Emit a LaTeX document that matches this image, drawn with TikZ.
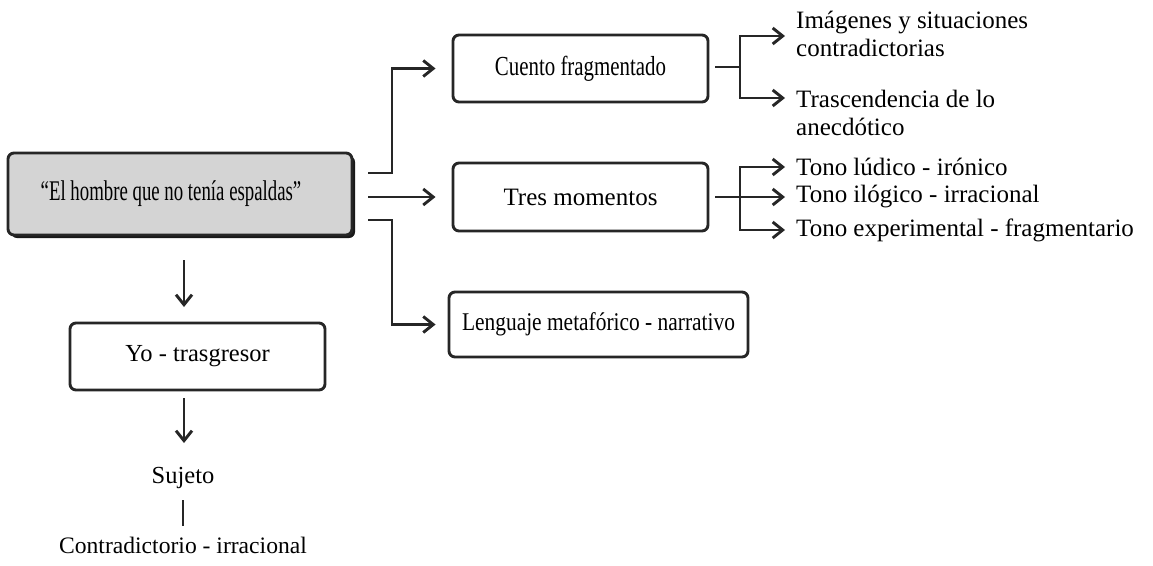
\documentclass[tikz,border=0pt]{standalone}
\usepackage{fontspec}
\setmainfont{Liberation Serif}
\newfontfamily\cuentofont[FakeStretch=0.76]{Liberation Serif}
\newfontfamily\lenguajefont[FakeStretch=0.84]{Liberation Serif}
\newfontfamily\titlefont[FakeStretch=0.66]{Liberation Serif}
\usetikzlibrary{arrows.meta,shadows}
\tikzset{
  box/.style={draw=black!85, line width=2.9pt, rounded corners=6pt, align=center, inner sep=0pt},
  mainbox/.style={box, fill=black!17, drop shadow={shadow xshift=3pt, shadow yshift=-3pt, fill=black!90, opacity=1}},
  lbl/.style={anchor=west, align=left, inner sep=0pt, font=\fontsize{25}{28}\selectfont},
  plain/.style={inner sep=0pt, font=\fontsize{24.5}{27}\selectfont},
  link/.style={draw=black!85, line width=2.9pt},
  arr/.style={link, -{Straight Barb[length=10pt,width=16pt,line width=2.9pt]}},
}
\begin{document}
\begin{tikzpicture}[x=1pt,y=-1pt]
\useasboundingbox (0,0) rectangle (1153,565);

% title box and its caption
\node[mainbox, minimum width=344pt, minimum height=82pt] (main) at (180,194) {};
\node[inner sep=0pt, font=\titlefont\fontsize{28.5}{30}\selectfont]
  (maintext) at (171,194) {“El hombre que no tenía espaldas”};

% boxes
\node[box, minimum width=255pt, minimum height=67pt, font=\cuentofont\fontsize{27.5}{29}\selectfont]
  (cuento) at (580.5,68.5) {Cuento fragmentado};
\node[box, minimum width=255pt, minimum height=68pt, font=\fontsize{25}{27}\selectfont]
  (tres) at (580.5,197) {Tres momentos};
\node[box, minimum width=299pt, minimum height=65pt, font=\lenguajefont\fontsize{25.5}{27}\selectfont]
  (leng) at (598.5,324.5) {Lenguaje metafórico - narrativo};
\node[box, minimum width=255pt, minimum height=67pt, font=\fontsize{24.5}{27}\selectfont]
  (yo) at (197.5,356.5) {Yo - trasgresor};

% right-hand labels
\node[lbl] (img) at (796,34) {Imágenes y situaciones\\contradictorias};
\node[lbl] (tras) at (796,112.5) {Trascendencia de lo\\anecdótico};
\node[lbl] (t1) at (796,167) {Tono lúdico - irónico};
\node[lbl] (t2) at (796,197) {Tono ilógico - irracional};
\node[lbl] (t3) at (796,230) {Tono experimental - fragmentario};

% lower labels
\node[plain] (suj) at (183,478) {Sujeto};
\node[plain, font=\fontsize{23.6}{26}\selectfont] (contra) at (183,545) {Contradictorio - irracional};

% connector ends
\coordinate (m1) at (368,173);
\coordinate (m2) at (368,197);
\coordinate (m3) at (368,220);
\coordinate (c0) at (715,67);
\coordinate (imgtip) at (785,36);
\coordinate (trastip) at (785,98);
\coordinate (r0) at (715,197);
\coordinate (d1) at (184,260);
\coordinate (d2) at (184,307);
\coordinate (d3) at (184,398);
\coordinate (d4) at (184,443);
\coordinate (s1) at (183,500);
\coordinate (s2) at (183,526);

% from the title box
\draw[arr] (m1) -- ++(24,0) |- ([xshift=-16pt]cuento.west);
\draw[arr] (m2) -- ([xshift=-16pt]tres.west);
\draw[arr] (m3) -- ++(24,0) |- ([xshift=-12pt]leng.west);

% from "Cuento fragmentado"
\draw[link] (c0) -- ++(25,0);
\draw[arr] (c0) ++(25,0) |- (imgtip);
\draw[arr] (c0) ++(25,0) |- (trastip);

% from "Tres momentos"
\draw[arr] (r0) -- ([xshift=-11pt]t2.west);
\draw[arr] (r0) ++(25,0) |- ([xshift=-11pt]t1.west);
\draw[arr] (r0) ++(25,0) |- ([xshift=-11pt]t3.west);

% vertical chain
\draw[arr] (d1) -- (d2);
\draw[arr] (d3) -- (d4);
\draw[link] (s1) -- (s2);
\end{tikzpicture}
\end{document}
